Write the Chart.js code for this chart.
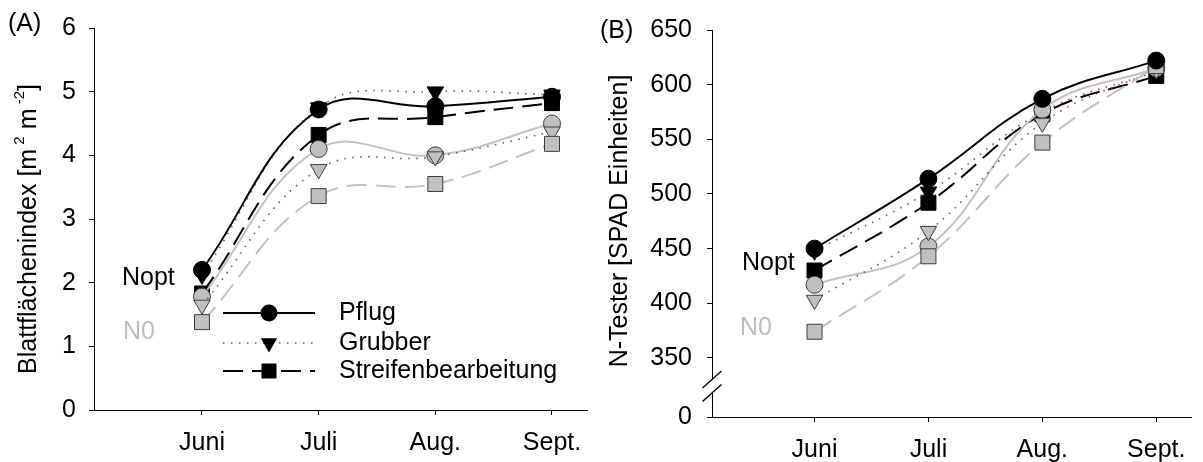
<!DOCTYPE html>
<html lang="de">
<head>
<meta charset="utf-8">
<title>Blattflächenindex und N-Tester</title>
<script src="https://cdn.jsdelivr.net/npm/chart.js@4.4.1/dist/chart.umd.min.js"></script>
<style>
  html, body { margin: 0; padding: 0; background: #fff; }
  #wrap { position: relative; width: 1203px; height: 462px; overflow: hidden; }
  #laiChart { position: absolute; left: 0; top: 0; }
  #spadChart { position: absolute; left: 600px; top: 0; }
</style>
</head>
<body>
<div id="wrap">
  <canvas id="laiChart" width="600" height="462"></canvas>
  <canvas id="spadChart" width="603" height="462"></canvas>
</div>
<script>
const months = ["Juni", "Juli", "Aug.", "Sept."];

// (A) Blattflächenindex
const laiTicks = [0, 1, 2, 3, 4, 5, 6];
const laiPflugNopt = [2.2, 4.72, 4.77, 4.92];
const laiGrubberNopt = [2.12, 4.75, 5.0, 4.95];
const laiStreifenNopt = [1.83, 4.32, 4.6, 4.82];
const laiPflugN0 = [1.78, 4.1, 4.0, 4.5];
const laiGrubberN0 = [1.65, 3.78, 3.98, 4.37];
const laiStreifenN0 = [1.38, 3.36, 3.55, 4.18];

// (B) N-Tester, Achse unterbrochen: unterste Kante wird als 0 beschriftet
const spadTicks = [350, 400, 450, 500, 550, 600, 650];
const spadAxisBottom = 296;
const spadPflugNopt = [450, 514, 587, 622];
const spadGrubberNopt = [448, 502, 575, 612];
const spadStreifenNopt = [430, 492, 573, 608];
const spadPflugN0 = [417, 452, 577, 615];
const spadGrubberN0 = [403, 466, 565, 614];
const spadStreifenN0 = [374, 443, 547, 617];

const FONT = "'Liberation Sans', Arial, sans-serif";
const SIZE = 25;
const font = { family: FONT, size: SIZE };
const BLACK = "#000";
const GREY_LINE = "#c2c2c2";
const GREY_FILL = "#c0c0c0";
const GREY_EDGE = "#3c3c3c";
const DOTS = "rgba(150, 40, 90, 0.9)";

const markers = {
  pflug: { pointStyle: "circle", radius: 8.5, rotation: 0, dash: [] },
  grubber: { pointStyle: "triangle", radius: 9.5, rotation: 180, dash: [1.5, 6.5] },
  streifen: { pointStyle: "rect", radius: 10.6, rotation: 0, dash: [20, 9] },
};

function series(values, kind, level) {
  const m = markers[kind];
  const nopt = level === "Nopt";
  return {
    label: kind + " " + level,
    data: values.map((v, i) => ({ x: i + 1, y: v })),
    borderColor: kind === "grubber" ? DOTS : (nopt ? BLACK : GREY_LINE),
    borderWidth: kind === "grubber" ? 1.6 : 2,
    borderDash: m.dash,
    tension: 0.4,
    pointStyle: m.pointStyle,
    pointRadius: m.radius,
    pointRotation: m.rotation,
    pointBackgroundColor: nopt ? BLACK : GREY_FILL,
    pointBorderColor: nopt ? BLACK : GREY_EDGE,
    pointBorderWidth: 1,
  };
}

// first dataset ends up on top
function buildDatasets(pN, gN, sN, p0, g0, s0) {
  return [
    series(pN, "pflug", "Nopt"),
    series(s0, "streifen", "N0"),
    series(g0, "grubber", "N0"),
    series(p0, "pflug", "N0"),
    series(gN, "grubber", "Nopt"),
    series(sN, "streifen", "Nopt"),
  ];
}

function drawMarker(ctx, kind, x, y) {
  ctx.beginPath();
  if (kind === "pflug") {
    ctx.arc(x, y, 8.5, 0, Math.PI * 2);
  } else if (kind === "streifen") {
    ctx.rect(x - 7.5, y - 7.5, 15, 15);
  } else {
    ctx.moveTo(x - 8.2, y - 4.75);
    ctx.lineTo(x + 8.2, y - 4.75);
    ctx.lineTo(x, y + 9.5);
    ctx.closePath();
  }
  ctx.fillStyle = BLACK;
  ctx.fill();
}

// rotated axis title, parts may be superscript
function drawTitle(ctx, parts, cx, cy) {
  ctx.save();
  ctx.translate(cx, cy);
  ctx.rotate(-Math.PI / 2);
  ctx.textBaseline = "middle";
  ctx.textAlign = "left";
  const fontOf = (p) => (p.sup ? "15px " : SIZE + "px ") + FONT;
  const widths = parts.map((p) => {
    ctx.font = fontOf(p);
    return ctx.measureText(p.text).width;
  });
  let x = -widths.reduce((a, b) => a + b, 0) / 2;
  parts.forEach((p, i) => {
    ctx.font = fontOf(p);
    ctx.fillStyle = BLACK;
    ctx.fillText(p.text, x, p.sup ? -9 : 0);
    x += widths[i];
  });
  ctx.restore();
}

function labelText(ctx, text, x, y, color) {
  ctx.font = SIZE + "px " + FONT;
  ctx.fillStyle = color;
  ctx.textAlign = "left";
  ctx.textBaseline = "middle";
  ctx.fillText(text, x, y);
}

function chartOptions(cfg) {
  return {
    responsive: false,
    animation: false,
    devicePixelRatio: 1,
    layout: { padding: cfg.padding },
    plugins: { legend: { display: false }, tooltip: { enabled: false } },
    scales: {
      x: {
        type: "linear",
        min: cfg.xMin,
        max: cfg.xMax,
        afterFit: (s) => { s.height = cfg.xHeight; },
        afterBuildTicks: (s) => { s.ticks = months.map((m, i) => ({ value: i + 1 })); },
        ticks: {
          callback: (v) => months[Math.round(v) - 1],
          font: font, color: BLACK, padding: 13, maxRotation: 0, autoSkip: false,
        },
        grid: { drawOnChartArea: false, tickLength: 5, color: BLACK },
        border: { color: BLACK, width: 1 },
      },
      y: {
        min: cfg.yMin,
        max: cfg.yMax,
        afterFit: (s) => { s.width = cfg.yWidth; },
        afterBuildTicks: (s) => { s.ticks = cfg.yTicks.map((v) => ({ value: v })); },
        ticks: {
          callback: cfg.yLabel,
          font: font, color: BLACK, padding: cfg.yPad, autoSkip: false,
        },
        grid: { drawOnChartArea: false, tickLength: 5, color: BLACK },
        border: { color: BLACK, width: 1 },
      },
    },
  };
}

// Panel A
new Chart(document.getElementById("laiChart"), {
  type: "line",
  data: {
    datasets: buildDatasets(laiPflugNopt, laiGrubberNopt, laiStreifenNopt,
      laiPflugN0, laiGrubberN0, laiStreifenN0),
  },
  options: chartOptions({
    padding: { top: 22, right: 13, left: 0, bottom: 0 },
    xMin: 0.0743, xMax: 4.30, xHeight: 52,
    yMin: 0, yMax: 6, yWidth: 94, yTicks: laiTicks, yPad: 13,
    yLabel: (v) => v,
  }),
  plugins: [{
    id: "laiExtras",
    afterDraw(chart) {
      const ctx = chart.ctx;
      ctx.save();
      labelText(ctx, "(A)", 8, 24, BLACK);
      labelText(ctx, "Nopt", 122, 278, BLACK);
      labelText(ctx, "N0", 123, 332, "#bebebe");
      drawTitle(ctx, [
        { text: "Blattflächenindex [m" },
        { text: " 2", sup: true },
        { text: " m" },
        { text: " -2", sup: true },
        { text: "]" },
      ], 29, 229);

      // legend
      const rows = [
        { kind: "pflug", name: "Pflug", y: 313, color: BLACK, width: 2, dash: [] },
        { kind: "grubber", name: "Grubber", y: 343, color: DOTS, width: 1.6, dash: [1.5, 6.5] },
        { kind: "streifen", name: "Streifenbearbeitung", y: 371, color: BLACK, width: 2, dash: [20, 9] },
      ];
      rows.forEach((r) => {
        ctx.beginPath();
        ctx.setLineDash(r.dash);
        ctx.strokeStyle = r.color;
        ctx.lineWidth = r.width;
        ctx.moveTo(223, r.y);
        ctx.lineTo(315, r.y);
        ctx.stroke();
        ctx.setLineDash([]);
        drawMarker(ctx, r.kind, 269, r.y);
        labelText(ctx, r.name, 339, r.y, BLACK);
      });
      ctx.restore();
    },
  }],
});

// Panel B
new Chart(document.getElementById("spadChart"), {
  type: "line",
  data: {
    datasets: buildDatasets(spadPflugNopt, spadGrubberNopt, spadStreifenNopt,
      spadPflugN0, spadGrubberN0, spadStreifenN0),
  },
  options: chartOptions({
    padding: { top: 29, right: 0, left: 0, bottom: 0 },
    xMin: 0.1, xMax: 4.3086, xHeight: 45,
    yMin: spadAxisBottom, yMax: 650, yWidth: 112, yPad: 15,
    yTicks: [spadAxisBottom].concat(spadTicks),
    yLabel: (v) => (v === spadAxisBottom ? "0" : v),
  }),
  plugins: [{
    id: "spadExtras",
    afterDraw(chart) {
      const ctx = chart.ctx;
      const ax = chart.chartArea.left;
      ctx.save();
      labelText(ctx, "(B)", 0, 31, BLACK);
      labelText(ctx, "Nopt", 142, 263, BLACK);
      labelText(ctx, "N0", 140, 328, "#bebebe");
      drawTitle(ctx, [{ text: "N-Tester [SPAD Einheiten]" }], 20, 221);

      // axis break
      ctx.fillStyle = "#fff";
      ctx.fillRect(ax - 3, 380, 6, 12);
      ctx.strokeStyle = BLACK;
      ctx.lineWidth = 1.4;
      [379.5, 393].forEach((cy) => {
        ctx.beginPath();
        ctx.moveTo(ax - 9.5, cy + 8.5);
        ctx.lineTo(ax + 9.5, cy - 8.5);
        ctx.stroke();
      });
      ctx.restore();
    },
  }],
});
</script>
</body>
</html>
